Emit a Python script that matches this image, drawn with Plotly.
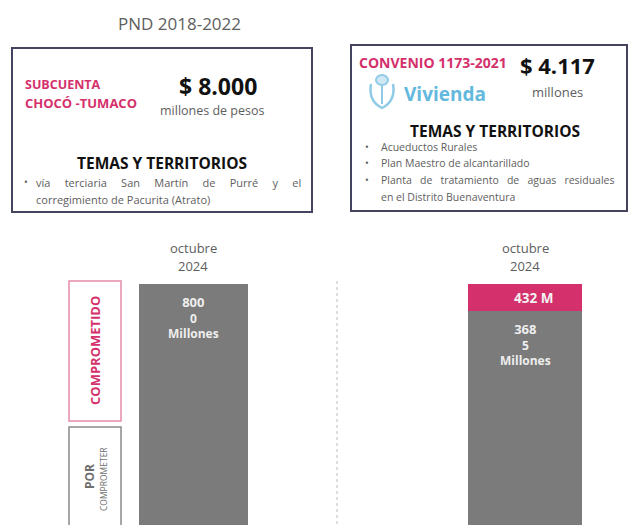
import plotly.graph_objects as go

# ---- data -------------------------------------------------------------
periods = ["octubre 2024"]
fund_names = ["SUBCUENTA CHOCÓ -TUMACO", "CONVENIO 1173-2021"]
fund_totals = [8000, 4117]            # millones de pesos
committed = [0, 432]                   # COMPROMETIDO
uncommitted = [8000, 3685]             # POR COMPROMETER
left_topics = ["vía terciaria San Martín de Purré y el", "corregimiento de Pacurita (Atrato)"]
right_topics = ["Acueductos Rurales", "Plan Maestro de alcantarillado",
                "Planta de tratamiento de aguas residuales", "en el Distrito Buenaventura"]

W, H = 629, 525
PINK = "#d4306c"
GREY_BAR = "#7b7b7b"
DARK = "#333333"
MID = "#5e5e5e"
FONT = "Open Sans"


def px(x):
    return x / W


def py(y):
    return 1 - y / H


def justify(line, n):
    """Widen the gaps of a justified paragraph line."""
    return line.replace(" ", "&nbsp;" * n)


fig = go.Figure()

# one stacked bar per fund, each on its own axes pair
axes = [("x", "y", 139, 248), ("x2", "y2", 468, 582)]
bar_top_px = 284
visible_frac = 241 / 257   # share of each bar's height above the page edge

for i, (xa, ya, x0, x1) in enumerate(axes):
    fig.add_trace(go.Bar(x=periods, y=[uncommitted[i]], marker_color=GREY_BAR,
                         marker_line_width=0, width=1, xaxis=xa, yaxis=ya,
                         hoverinfo="skip", showlegend=False))
    fig.add_trace(go.Bar(x=periods, y=[committed[i]], marker_color=PINK,
                         marker_line_width=0, width=1, xaxis=xa, yaxis=ya,
                         hoverinfo="skip", showlegend=False))
    total = committed[i] + uncommitted[i]
    sfx = "" if i == 0 else "2"
    fig.layout["xaxis" + sfx] = dict(domain=[px(x0), px(x1)], range=[-0.5, 0.5],
                                     visible=False, fixedrange=True)
    fig.layout["yaxis" + sfx] = dict(domain=[0, py(bar_top_px)],
                                     range=[total * (1 - visible_frac), total],
                                     visible=False, fixedrange=True)

fig.update_layout(barmode="stack", bargap=0)

shapes = []
ann = []


def text(x, y, s, size, color=DARK, bold=False, xanchor="left", **kw):
    ann.append(dict(x=px(x), y=py(y), xref="paper", yref="paper", text=f"<b>{s}</b>" if bold else s,
                    showarrow=False, xanchor=xanchor, yanchor="middle",
                    font=dict(family=FONT, size=size, color=color), **kw))


# value labels inside the bars
for i, (xa, ya, x0, x1) in enumerate(axes):
    total = committed[i] + uncommitted[i]
    if committed[i] > 0:
        ann.append(dict(x=periods[0], y=total, xref=xa, yref=ya, text=f"<b>{committed[i]} M</b>",
                        showarrow=False, yanchor="middle", yshift=-14, xshift=8,
                        font=dict(family=FONT, size=13.5, color="#f2f2f2")))
    s = str(uncommitted[i])
    ann.append(dict(x=periods[0], y=uncommitted[i], xref=xa, yref=ya,
                    text=f"<b><span style='font-size:13px'>{s[:3]}</span><br>{s[3:]}<br>Millones</b>",
                    showarrow=False, yanchor="top", yshift=-7,
                    font=dict(family=FONT, size=12, color="#eeeeee")))

# title
text(179, 24, "PND 2018-2022", 17, MID, xanchor="center")

# left info card
shapes.append(dict(type="rect", xref="paper", yref="paper", x0=px(12), x1=px(312), y0=py(212), y1=py(48),
                   line=dict(color="#44445e", width=2), fillcolor="white"))
text(23, 84, "SUBCUENTA", 12.5, PINK, bold=True)
text(23, 103, "CHOCÓ -TUMACO", 13, PINK, bold=True)
text(218, 86, f"$ {fund_totals[0]:,}".replace(",", "."), 23, "#111111", bold=True, xanchor="center")
text(212, 110, "millones de pesos", 12.5, MID, xanchor="center")
text(162, 163, "TEMAS Y TERRITORIOS", 15.5, "#111111", bold=True, xanchor="center")
text(22, 182, "•", 10, MID)
text(34, 182, justify(left_topics[0], 5), 11, MID)
text(34, 199, left_topics[1], 11, MID)

# right info card
shapes.append(dict(type="rect", xref="paper", yref="paper", x0=px(351), x1=px(627), y0=py(211), y1=py(45),
                   line=dict(color="#44445e", width=2), fillcolor="white"))
text(357, 62, "CONVENIO 1173-2021", 14, PINK, bold=True)
text(557, 65, f"$ {fund_totals[1]:,}".replace(",", "."), 22, "#111111", bold=True, xanchor="center")
text(557, 92, "millones", 13, MID, xanchor="center")
text(402, 94, "<b>Vivienda</b>", 19, "#62b9dd")
# coat-of-arms emblem next to "Vivienda"
LOGO = "#8fcbe6"
shapes.append(dict(type="path", xref="paper", yref="paper",
                   path=(f"M {px(371)} {py(84)} Q {px(368)} {py(101)} {px(382)} {py(108)} "
                         f"Q {px(396)} {py(101)} {px(393)} {py(84)}"),
                   line=dict(color=LOGO, width=2.5)))
shapes.append(dict(type="circle", xref="paper", yref="paper", x0=px(376), x1=px(388), y0=py(85), y1=py(75),
                   line=dict(color=LOGO, width=2), fillcolor="#cfe8f4"))
shapes.append(dict(type="line", xref="paper", yref="paper", x0=px(382), x1=px(382), y0=py(104), y1=py(86),
                   line=dict(color=LOGO, width=2)))
text(495, 131, "TEMAS Y TERRITORIOS", 15.5, "#111111", bold=True, xanchor="center")
for k, (line, yy) in enumerate(zip(right_topics, [147, 163, 180, 197])):
    if k < 3:
        text(363, yy, "•", 10, MID)
    body = justify(line, 3) if k == 2 else line
    text(379, yy, body, 10.5, MID)

# column headers
for cx in (193, 525):
    text(cx, 248, "octubre", 13, MID, xanchor="center")
    text(cx, 266, "2024", 13, MID, xanchor="center")

# separator between the two funds
shapes.append(dict(type="line", xref="paper", yref="paper", x0=px(337), x1=px(337), y0=py(281), y1=0,
                   line=dict(color="#d4d4d4", width=1.5, dash="dot")))

# status legend boxes
shapes.append(dict(type="rect", xref="paper", yref="paper", x0=px(69), x1=px(121), y0=py(421), y1=py(281),
                   line=dict(color="#e58aa8", width=1.5)))
shapes.append(dict(type="rect", xref="paper", yref="paper", x0=px(69), x1=px(121), y0=-0.02, y1=py(427),
                   line=dict(color="#8a8a8a", width=1.5)))
text(95, 351, "COMPROMETIDO", 13, PINK, bold=True, xanchor="center", textangle=-90)
text(89, 477, "POR", 12, "#6e6e6e", bold=True, xanchor="center", textangle=-90)
text(103, 479, "COMPROMETER", 8.5, "#6e6e6e", xanchor="center", textangle=-90)

fig.update_layout(width=W, height=H, margin=dict(l=0, r=0, t=0, b=0),
                  paper_bgcolor="white", plot_bgcolor="white",
                  shapes=shapes, annotations=ann, showlegend=False)

fig.write_html("out.html", config={"displayModeBar": False})
